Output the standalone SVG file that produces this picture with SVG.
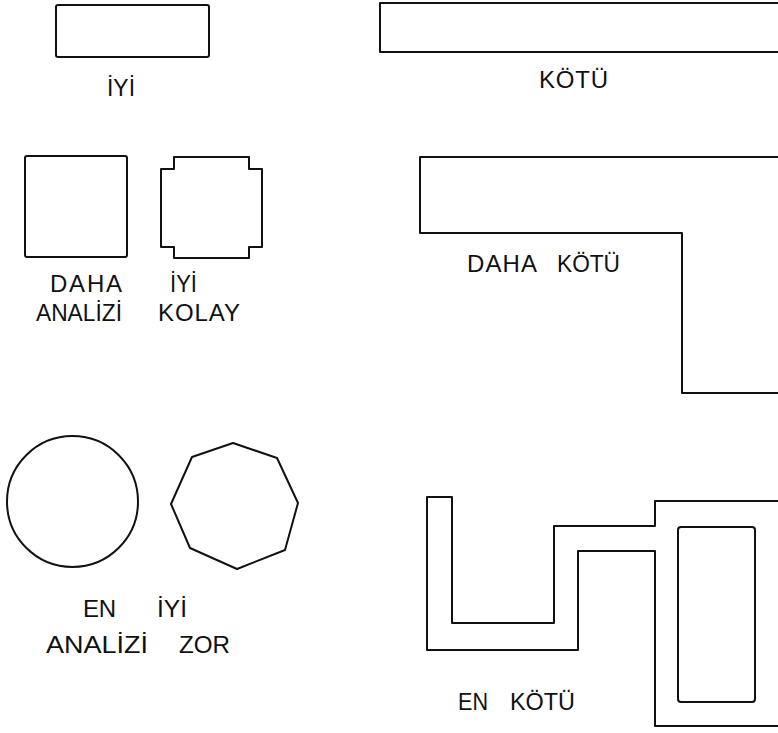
<svg xmlns="http://www.w3.org/2000/svg" width="778" height="733" viewBox="0 0 778 733">
<style>
.s{fill:none;stroke:#111;stroke-width:2;stroke-linejoin:round}
.t{font-family:"Liberation Sans","DejaVu Sans",sans-serif;font-size:24px;fill:#111}
</style>
<rect width="778" height="733" fill="#fff"/>
<g id="iyi">
<rect class="s" x="56" y="5" width="153" height="52" rx="2"/>
<text class="t" x="107" y="96" textLength="28" lengthAdjust="spacingAndGlyphs">İYİ</text>
</g>
<g id="kotu">
<path class="s" d="M780 3 H380 V52 H780"/>
<text class="t" x="539" y="88" textLength="69" lengthAdjust="spacing">KÖTÜ</text>
</g>
<g id="daha-analizi-kolay">
<rect class="s" x="25" y="156" width="102" height="101" rx="2"/>
<text class="t" x="50" y="292" textLength="72" lengthAdjust="spacing">DAHA</text>
<text class="t" x="36" y="321" textLength="86" lengthAdjust="spacingAndGlyphs">ANALİZİ</text>
</g>
<g id="iyi-kolay">
<path class="s" d="M174 157 H249 V169 H262 V247 H249 V258 H174 V247 H161 V169 H174 Z"/>
<text class="t" x="170" y="292" textLength="27" lengthAdjust="spacingAndGlyphs">İYİ</text>
<text class="t" x="158" y="321" textLength="82" lengthAdjust="spacing">KOLAY</text>
</g>
<g id="daha-kotu">
<path class="s" d="M780 157 H420 V233 H682 V393 H780"/>
<text class="t" x="467" y="272" textLength="70" lengthAdjust="spacing">DAHA</text>
<text class="t" x="557" y="272" textLength="63" lengthAdjust="spacingAndGlyphs">KÖTÜ</text>
</g>
<g id="en-analizi">
<circle class="s" cx="72.5" cy="501.5" r="65.5"/>
<text class="t" x="83" y="617" textLength="33" lengthAdjust="spacing">EN</text>
<text class="t" x="46" y="653" textLength="102" lengthAdjust="spacingAndGlyphs">ANALİZİ</text>
</g>
<g id="iyi-zor">
<path class="s" d="M233 443 L277 458 L298 503 L285 550 L237 569 L190 548 L171 504 L192 457 Z"/>
<text class="t" x="157" y="617" textLength="30" lengthAdjust="spacingAndGlyphs">İYİ</text>
<text class="t" x="179" y="653" textLength="51" lengthAdjust="spacingAndGlyphs">ZOR</text>
</g>
<g id="en-kotu">
<path class="s" d="M780 501 H655 V526 H554 V623 H452 V497 H427 V650 H578 V551 H655 V726 H780"/>
<rect class="s" x="678" y="527" width="77" height="175" rx="3"/>
<text class="t" x="458" y="710" textLength="30" lengthAdjust="spacingAndGlyphs">EN</text>
<text class="t" x="510" y="710" textLength="65" lengthAdjust="spacingAndGlyphs">KÖTÜ</text>
</g>
</svg>
